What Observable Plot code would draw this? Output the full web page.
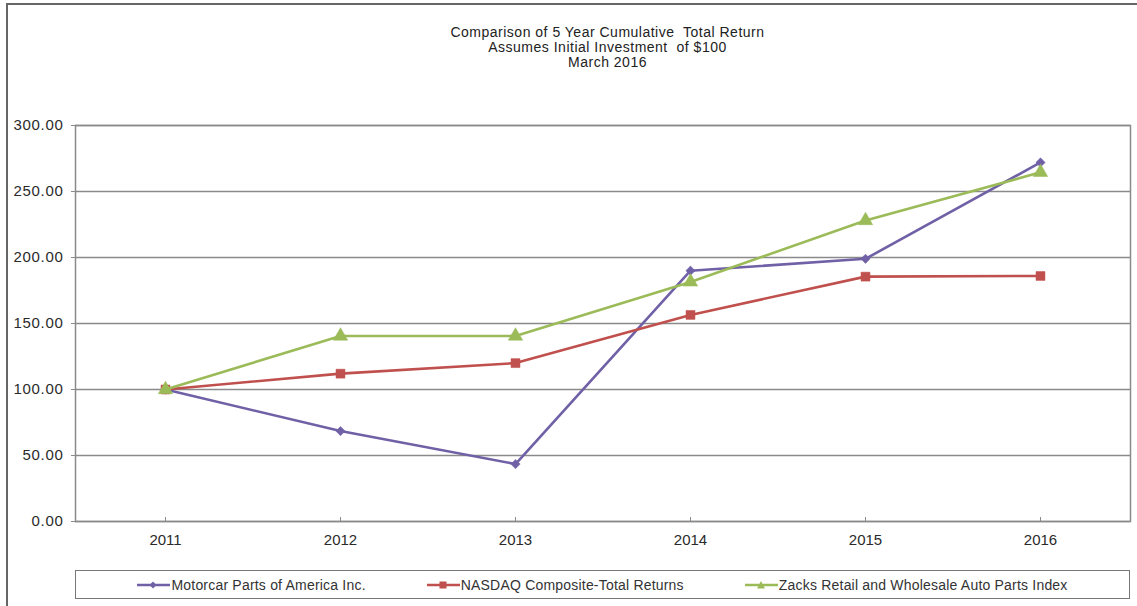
<!DOCTYPE html>
<html>
<head>
<meta charset="utf-8">
<script src="https://cdn.jsdelivr.net/npm/d3@7"></script>
<script src="https://cdn.jsdelivr.net/npm/@observablehq/plot@0.6"></script>
<style>
  html, body { margin: 0; padding: 0; background: #fff; }
  body { width: 1137px; height: 606px; position: relative; overflow: hidden; font-family: "Liberation Sans", Arial, sans-serif; }
  #frameTop { position: absolute; left: 6px; top: 3px; width: 1131px; height: 0; border-top: 2px solid #666; }
  #frameLeft { position: absolute; left: 6px; top: 3px; width: 0; height: 603px; border-left: 2px solid #666; }
  #title { position: absolute; left: 75px; width: 1065px; top: 25px; text-align: center; font-size: 14px; letter-spacing: 0.5px; line-height: 15px; color: #222; }
  #chart { position: absolute; left: 0; top: 100px; }
  #chart g[aria-label="y-axis tick label"] { letter-spacing: 0.7px; }
  #legend { position: absolute; left: 75px; top: 570px; width: 1053px; height: 27px; border: 1px solid #777;
            display: flex; justify-content: center; align-items: center; gap: 61px; font-size: 14px; letter-spacing: 0.2px; color: #333; }
  .item { display: flex; align-items: center; }
  .item svg { margin-right: 1px; }
</style>
</head>
<body>
<div id="frameTop"></div>
<div id="frameLeft"></div>
<div id="title"></div>
<div id="chart"></div>
<div id="legend"></div>
<script>
const titleLines = ["Comparison of 5 Year Cumulative  Total Return", "Assumes Initial Investment  of $100", "March 2016"];
const years = ["2011", "2012", "2013", "2014", "2015", "2016"];
const seriesNames = ["Motorcar Parts of America Inc.", "NASDAQ Composite-Total Returns", "Zacks Retail and Wholesale Auto Parts Index"];
const motorcar = [100, 68.5, 43.5, 190, 199, 272];
const nasdaq = [100, 112, 120, 156.5, 185.5, 186];
const zacks = [100, 140.5, 140.5, 181.5, 228, 264.5];
const yTicks = [0, 50, 100, 150, 200, 250, 300];
const colors = ["#7060A6", "#C0504D", "#9BBB59"];
const symbols = ["diamond2", "square", "triangle"];
const symbolSizes = [55, 80, 90];

document.getElementById("title").innerHTML = titleLines.map(t => `<div style="white-space:pre">${t}</div>`).join("");

const seriesValues = [motorcar, nasdaq, zacks];
const rows = seriesValues.map((vals, i) => years.map((yr, j) => ({series: seriesNames[i], year: yr, value: vals[j], idx: i})));

const lineMarks = rows.flatMap((data, i) => [
  Plot.line(data, {x: "year", y: "value", stroke: colors[i], strokeWidth: 2.6}),
  Plot.dot(data, {x: "year", y: "value", fill: colors[i], stroke: colors[i], strokeWidth: 0.5, symbol: () => symbols[i], r: Math.sqrt(symbolSizes[i] / Math.PI)})
]);

const chart = Plot.plot({
  width: 1137,
  height: 460,
  marginLeft: 75,
  marginRight: 7,
  marginTop: 25,
  marginBottom: 39,
  x: {type: "point", domain: years, padding: 0.5},
  y: {domain: [0, 300]},
  style: {fontFamily: "'Liberation Sans', Arial, sans-serif", fontSize: "15px", color: "#2a2a2a", background: "transparent"},
  marks: [
    Plot.gridY(yTicks, {stroke: "#8a8a8a", strokeOpacity: 1, strokeWidth: 1.5}),
    Plot.frame({stroke: "#8a8a8a", strokeWidth: 1.5}),
    Plot.axisY(yTicks, {tickFormat: d => d.toFixed(2), tickSize: 4, tickPadding: 8, label: null, stroke: "#8a8a8a"}),
    Plot.axisX(years, {tickSize: -4, tickPadding: 17, label: null, stroke: "#8a8a8a"}),
    ...lineMarks
  ]
});
document.getElementById("chart").appendChild(chart);

const legend = document.getElementById("legend");
seriesNames.forEach((name, i) => {
  const item = document.createElement("div");
  item.className = "item";
  let sym;
  if (i === 0) sym = `<polygon points="16,1.5 19.5,5 16,8.5 12.5,5" fill="${colors[i]}"/>`;
  else if (i === 1) sym = `<rect x="12.5" y="1.5" width="7" height="7" fill="${colors[i]}"/>`;
  else sym = `<polygon points="16,1 20,8.5 12,8.5" fill="${colors[i]}"/>`;
  item.innerHTML = `<svg width="33" height="10"><line x1="0" y1="5" x2="33" y2="5" stroke="${colors[i]}" stroke-width="2.6"/>${sym}</svg><span>${name}</span>`;
  legend.appendChild(item);
});
</script>
</body>
</html>
